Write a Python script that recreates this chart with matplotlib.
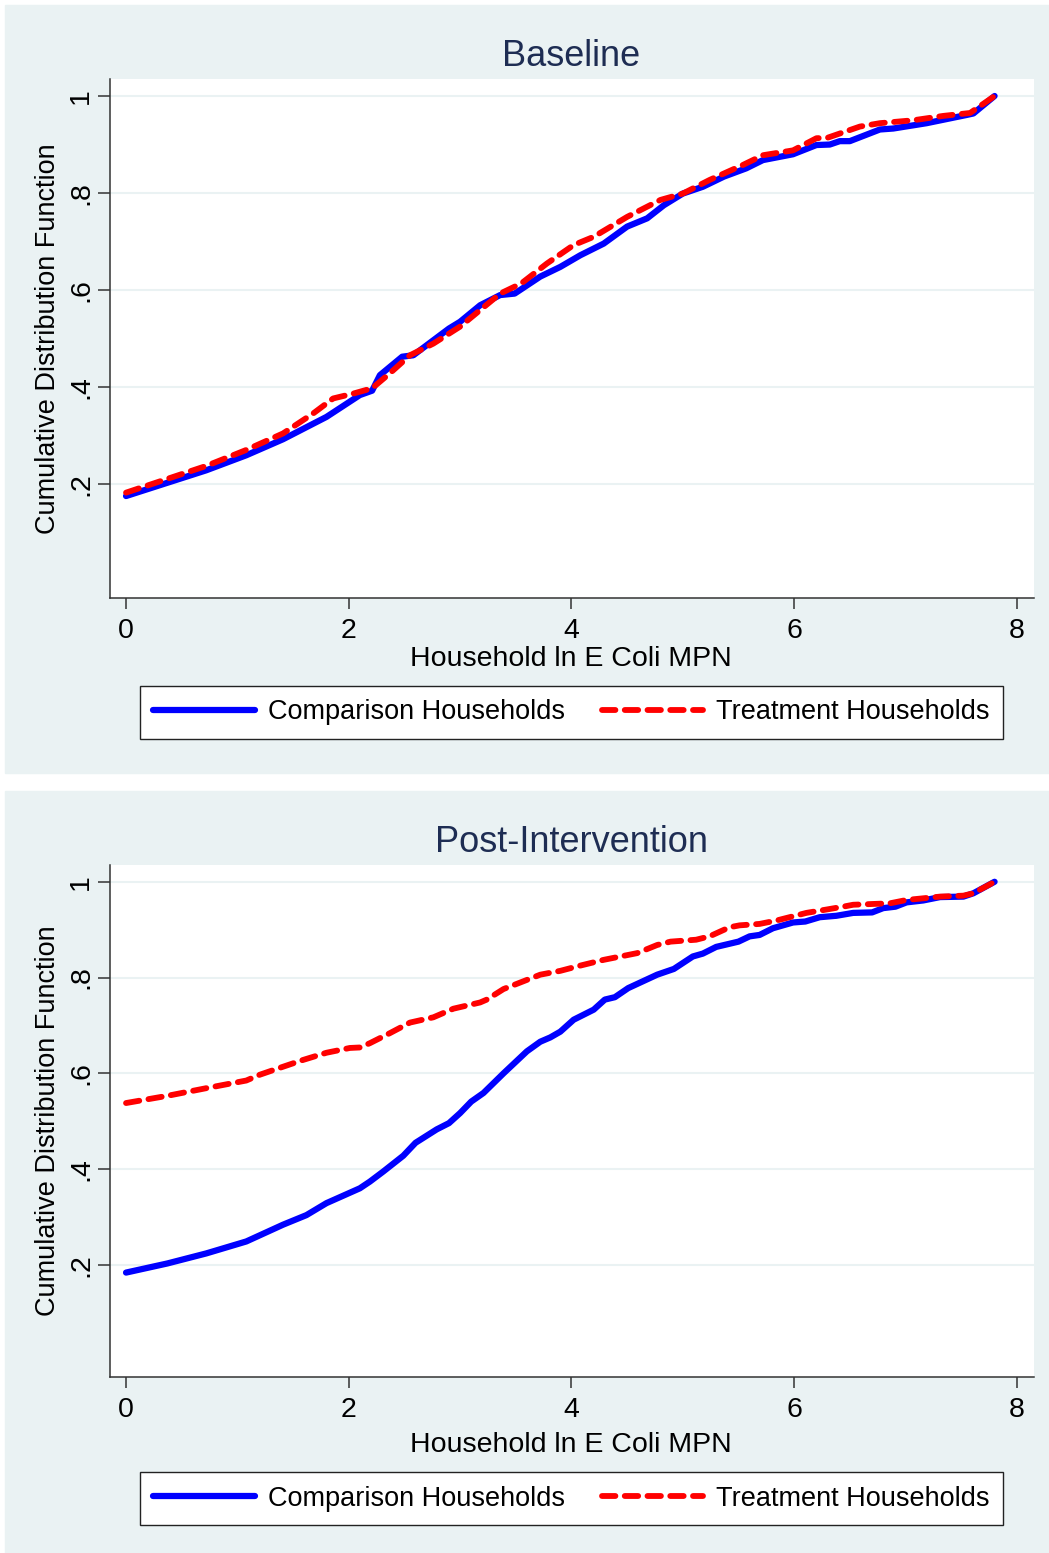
import matplotlib
matplotlib.use("Agg")
import matplotlib.pyplot as plt
from matplotlib.patches import Rectangle
from matplotlib.lines import Line2D

plt.rcParams['font.family'] = ['Liberation Sans', 'DejaVu Sans']

# baseline CDFs (log E. coli MPN)
base_comp_x = [0, 0.72, 1.08, 1.41, 1.80, 2.10, 2.21, 2.28, 2.48, 2.58, 2.90, 3.00, 3.18,
               3.36, 3.49, 3.72, 3.90, 4.08, 4.29, 4.50, 4.68, 4.83, 5.00, 5.18, 5.37,
               5.57, 5.72, 5.99, 6.20, 6.32, 6.41, 6.50, 6.77, 6.89, 7.19, 7.55, 7.61, 7.80]
base_comp_y = [.176, .229, .260, .293, .339, .384, .393, .425, .463, .466, .521, .535, .569,
               .590, .593, .628, .648, .672, .696, .731, .748, .775, .799, .813, .834,
               .851, .868, .880, .899, .900, .907, .907, .931, .933, .944, .961, .964, 1.0]

base_treat_x = [0, 0.72, 1.08, 1.41, 1.68, 1.86, 2.04, 2.21, 2.37, 2.55, 2.76, 3.00, 3.36,
                3.55, 3.78, 4.02, 4.20, 4.50, 4.80, 5.00, 5.24, 5.54, 5.72, 5.99, 6.20,
                6.30, 6.59, 6.77, 7.07, 7.34, 7.58, 7.80]
base_treat_y = [.183, .238, .271, .305, .346, .377, .387, .398, .429, .466, .490, .525, .593,
                .614, .655, .693, .710, .751, .786, .799, .827, .858, .878, .888, .913,
                .914, .937, .944, .950, .959, .965, 1.0]

# post-intervention CDFs
post_comp_x = [0, 0.37, 0.72, 1.08, 1.41, 1.62, 1.80, 2.10, 2.19, 2.31, 2.49, 2.60, 2.79,
               2.90, 3.00, 3.10, 3.21, 3.39, 3.60, 3.72, 3.81, 3.90, 4.02, 4.20, 4.30,
               4.39, 4.51, 4.77, 4.92, 5.09, 5.18, 5.30, 5.50, 5.60, 5.69, 5.81, 5.99,
               6.10, 6.23, 6.38, 6.53, 6.70, 6.80, 6.91, 7.01, 7.16, 7.31, 7.52, 7.61, 7.80]
post_comp_y = [.184, .203, .224, .249, .284, .304, .329, .360, .374, .395, .428, .455, .483,
               .496, .517, .541, .559, .600, .646, .666, .675, .687, .712, .733, .754,
               .759, .778, .806, .818, .844, .850, .864, .875, .886, .889, .903, .915,
               .917, .926, .929, .935, .936, .945, .948, .957, .961, .968, .969, .976, 1.0]

post_treat_x = [0, 0.37, 0.72, 1.08, 1.20, 1.40, 1.59, 1.80, 2.01, 2.10, 2.19, 2.37, 2.55,
                2.76, 2.94, 3.18, 3.24, 3.39, 3.72, 3.90, 4.08, 4.29, 4.59, 4.77, 4.89,
                5.12, 5.24, 5.42, 5.51, 5.69, 5.84, 6.11, 6.29, 6.44, 6.53, 6.86, 7.01,
                7.31, 7.52, 7.61, 7.80]
post_treat_y = [.538, .553, .569, .585, .597, .613, .628, .643, .653, .654, .663, .684, .706,
                .717, .735, .748, .754, .776, .806, .814, .825, .837, .851, .868, .875,
                .879, .886, .905, .909, .912, .919, .935, .942, .948, .952, .955, .962,
                .969, .971, .976, 1.0]

titles = ['Baseline', 'Post-Intervention']
x_ticks = [0, 2, 4, 6, 8]
y_ticks = [.2, .4, .6, .8, 1]
y_ticklabels = ['.2', '.4', '.6', '.8', '1']

W, H = 1049, 1553
BG = '#EAF2F3'
fig = plt.figure(figsize=(W / 100, H / 100), dpi=100)

# panel backgrounds (pixel rows top->bottom)
for top, bot in [(5, 773), (791, 1553)]:
    fig.patches.append(Rectangle((5 / W, 1 - bot / H), (W - 5) / W, (bot - top) / H,
                                 transform=fig.transFigure, color=BG, zorder=-5))

panels = [
    (titles[0], base_comp_x, base_comp_y, base_treat_x, base_treat_y, 79, 598, 0),
    (titles[1], post_comp_x, post_comp_y, post_treat_x, post_treat_y, 865, 1377, 786),
]

dash = (2.3, 1.6)
for title, cx, cy, tx, ty, ptop, pbot, off in panels:
    ax = fig.add_axes([110 / W, 1 - pbot / H, 924 / W, (pbot - ptop) / H])
    ax.set_zorder(1)
    ax.plot(cx, cy, color='#0000FF', lw=4.5, solid_capstyle='round', zorder=3)
    ax.plot(tx, ty, color='#FF0000', lw=4.2, dashes=dash, dash_capstyle='round', zorder=4)
    ax.set_xlim(-0.144, 8.154)
    ax.set_ylim(-0.034, 1.035)
    ax.set_xticks(x_ticks)
    ax.set_xticklabels([str(t) for t in x_ticks])
    ax.set_yticks(y_ticks)
    ax.set_yticklabels(y_ticklabels, rotation=90, va='center')
    ax.grid(axis='y', color=BG, lw=1.5)
    ax.set_axisbelow(True)
    for s in ['top', 'right']:
        ax.spines[s].set_visible(False)
    for s in ['left', 'bottom']:
        ax.spines[s].set_color('#333333')
        ax.spines[s].set_linewidth(1.1)
    ax.tick_params(axis='x', length=8, width=1.1, color='#333333', labelsize=20.5, pad=6.5)
    ax.tick_params(axis='y', length=8.5, width=1.1, color='#333333', labelsize=20.5, pad=3)

    fig.text(571 / W, 1 - (57 + off) / H, title, ha='center', va='center',
             fontsize=26, color='#1E2D53')
    fig.text(571 / W, 1 - (659 + off) / H, 'Household ln E Coli MPN', ha='center',
             va='center', fontsize=20.5)
    fig.text(48 / W, 1 - ((ptop + pbot) / 2) / H, 'Cumulative Distribution Function',
             rotation=90, ha='center', va='center', fontsize=19.5)

    handles = [Line2D([], [], color='#0000FF', lw=4.5, solid_capstyle='round'),
               Line2D([], [], color='#FF0000', lw=4.2, dashes=dash, dash_capstyle='round')]
    leg = fig.legend(handles, ['Comparison Households', 'Treatment Households'],
                     loc='center', bbox_to_anchor=(571.5 / W, 1 - (712.5 + off) / H),
                     ncol=2, fontsize=19.5, handlelength=3.75, handletextpad=0.47,
                     columnspacing=1.37, borderpad=0.5, fancybox=False, framealpha=1)
    leg.get_frame().set_edgecolor('#222222')
    leg.get_frame().set_linewidth(1.0)

fig.savefig('out.png', dpi=100)
